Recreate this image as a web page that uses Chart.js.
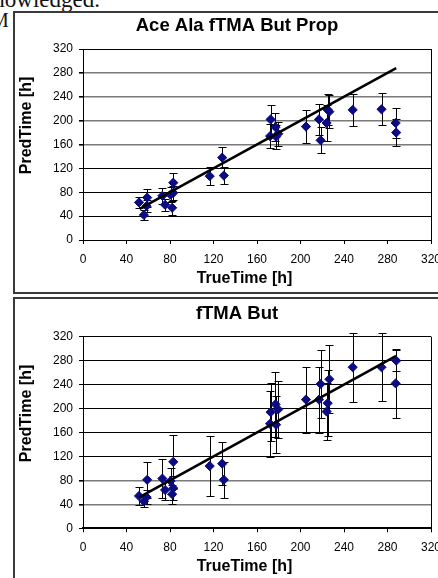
<!DOCTYPE html>
<html><head><meta charset="utf-8">
<script src="https://cdn.jsdelivr.net/npm/chart.js@4"></script>
<style>
html,body{margin:0;padding:0;background:#fff;overflow:hidden;width:438px;height:578px;}
#page{position:relative;width:438px;height:578px;overflow:hidden;background:#fff;}
.doc{position:absolute;font-family:"Liberation Serif","Times New Roman",serif;color:#111;line-height:1;white-space:nowrap;}
.frame{position:absolute;border:2px solid #3a3a3a;box-sizing:border-box;}
canvas{position:absolute;left:0;}
</style></head>
<body>
<div id="page">
  <div class="doc" style="right:338px;top:-12px;font-size:23px;">knowledged.</div>
  <div class="doc" style="left:-9px;top:10px;font-size:20px;">M</div>
  <div class="frame" style="left:13px;top:11px;width:470px;height:283px;"></div>
  <div class="frame" style="left:13px;top:297px;width:470px;height:300px;"></div>
  <canvas id="c1" width="474" height="282" style="top:12px;width:474px;height:282px;"></canvas>
  <canvas id="c2" width="474" height="280" style="top:298px;width:474px;height:280px;"></canvas>
</div>
<script>
// ---- data ----
const trueTime = [51.5, 56, 58.5, 59, 73, 75.5, 80.5, 82, 83, 83, 116.5, 128, 129.5, 172.5, 172, 177, 177.5, 179.5, 205, 217, 218.5, 224, 225, 226.5, 248, 274.5, 287.5, 288];
const predAll  = [63, 42, 57, 71, 74, 59, 76, 54, 79, 96, 107, 138, 108, 202, 174, 189, 173, 178, 190, 202, 167, 196, 218, 215, 218, 219, 196, 180];
const errAll   = [9, 8, 10, 15, 13, 10, 12, 12, 12, 16, 15, 17, 15, 25, 20, 23, 20, 20, 27, 26, 22, 30, 26, 28, 27, 27, 25, 23];
const predBut  = [54, 45, 52, 81, 83, 64, 79, 57, 67, 111, 104, 108, 81, 194, 174.5, 207, 173, 198.6, 215, 215, 241, 195, 209, 249, 269, 269, 242, 280];
const errBut   = [15, 10, 12, 30, 32, 16, 22, 16, 20, 45, 50, 36, 30, 49, 55, 54, 48, 48, 55, 55, 56, 48, 55, 57, 58, 57, 57, 18];
const fitTrue  = [52, 288];
const fitPred  = [52, 288];
const tickValues = [0, 40, 80, 120, 160, 200, 240, 280, 320];
const chartTitles = ['Ace Ala fTMA But Prop', 'fTMA But'];
const xTitle = 'TrueTime [h]';
const yTitle = 'PredTime [h]';
const grayTop = [160, 200, 240, 280];
const grayBottom = [40, 80];

const FONT = '"Liberation Sans", Arial, sans-serif';
Chart.defaults.font.family = FONT;
Chart.defaults.color = '#000';

const errorBarPlugin = {
  id: 'errorBars',
  beforeDatasetsDraw(chart) {
    const ctx = chart.ctx;
    const xs = chart.scales.x, ys = chart.scales.y;
    chart.data.datasets.forEach(ds => {
      if (!ds.errorBars) return;
      ctx.save();
      ctx.strokeStyle = '#000';
      ctx.lineWidth = 1;
      ds.data.forEach((p, i) => {
        const e = ds.errorBars[i];
        const px = Math.round(xs.getPixelForValue(p.x)) + 0.5;
        const y1 = Math.round(ys.getPixelForValue(p.y + e)) + 0.5;
        const y2 = Math.round(ys.getPixelForValue(p.y - e)) + 0.5;
        ctx.beginPath();
        ctx.moveTo(px, y1); ctx.lineTo(px, y2);
        ctx.moveTo(px - 4, y1); ctx.lineTo(px + 4, y1);
        ctx.moveTo(px - 4, y2); ctx.lineTo(px + 4, y2);
        ctx.stroke();
      });
      ctx.restore();
    });
  }
};

const axisTitlePlugin = {
  id: 'axisTitles',
  afterDraw(chart) {
    const ctx = chart.ctx;
    const a = chart.chartArea;
    ctx.save();
    ctx.fillStyle = '#000';
    ctx.font = 'bold 16px ' + FONT;
    ctx.textAlign = 'center';
    ctx.textBaseline = 'middle';
    ctx.fillText(xTitle, (a.left + a.right) / 2 - 12.5, a.bottom + 38.4);
    ctx.translate(27, (a.top + a.bottom) / 2 - 19);
    ctx.rotate(-Math.PI / 2);
    ctx.fillText(yTitle, 0, 0);
    ctx.restore();
  }
};

function makeChart(id, title, pred, err, gray, o) {
  const pts = trueTime.map((x, i) => ({x: x, y: pred[i]}));
  const fit = fitTrue.map((x, i) => ({x: x, y: fitPred[i]}));
  return new Chart(document.getElementById(id), {
    type: 'scatter',
    data: {
      datasets: [
        {
          data: fit, showLine: true, borderColor: '#000', borderWidth: 2.6,
          pointRadius: 0, fill: false
        },
        {
          data: pts, errorBars: err, pointStyle: 'rectRot', pointRadius: 4.6,
          backgroundColor: '#0b0b84', borderColor: '#0b0b84', borderWidth: 1
        }
      ]
    },
    options: {
      responsive: false,
      animation: false,
      events: [],
      layout: {padding: 0},
      plugins: {
        legend: {display: false},
        tooltip: {enabled: false},
        title: {
          display: true, text: title, color: '#000',
          font: {size: 18.5, weight: 'bold', family: FONT},
          padding: {top: o.tpTop, bottom: o.tpBottom}
        }
      },
      scales: {
        x: {
          type: 'linear', min: 0, max: 320,
          afterBuildTicks: s => { s.ticks = tickValues.map(v => ({value: v})); },
          ticks: {color: '#000', font: {size: 12}, padding: 8, maxRotation: 0, autoSkip: false},
          grid: {
            color: c => (c.tick && c.tick.value === 320) ? '#000' : 'rgba(0,0,0,0)',
            tickColor: '#000', tickLength: 4, lineWidth: 1
          },
          border: {color: '#000', width: o.xBorder},
          afterFit: s => { s.height = o.xHeight; }
        },
        y: {
          type: 'linear', min: 0, max: 320,
          afterBuildTicks: s => { s.ticks = tickValues.map(v => ({value: v})); },
          ticks: {color: '#000', font: {size: 12}, padding: 6},
          grid: {
            color: c => (c.tick && gray.includes(c.tick.value)) ? '#7a7a7a' : '#000',
            lineWidth: c => (c.tick && gray.includes(c.tick.value)) ? 1.6 : 1,
            tickColor: '#000', tickLength: 4
          },
          border: {color: '#000', width: 1},
          afterFit: s => { s.width = 83; }
        },
        y2: {
          position: 'right', display: true, min: 0, max: 1,
          grid: {display: false, drawOnChartArea: false},
          ticks: {display: false},
          border: {display: false},
          afterFit: s => { s.width = 43; }
        }
      }
    },
    plugins: [errorBarPlugin, axisTitlePlugin]
  });
}

makeChart('c1', chartTitles[0], predAll, errAll, grayTop, {tpTop: 3, tpBottom: 11.8, xHeight: 54, xBorder: 1});
makeChart('c2', chartTitles[1], predBut, errBut, grayBottom, {tpTop: 5, tpBottom: 11.5, xHeight: 49.7, xBorder: 2});
</script>
</body></html>
